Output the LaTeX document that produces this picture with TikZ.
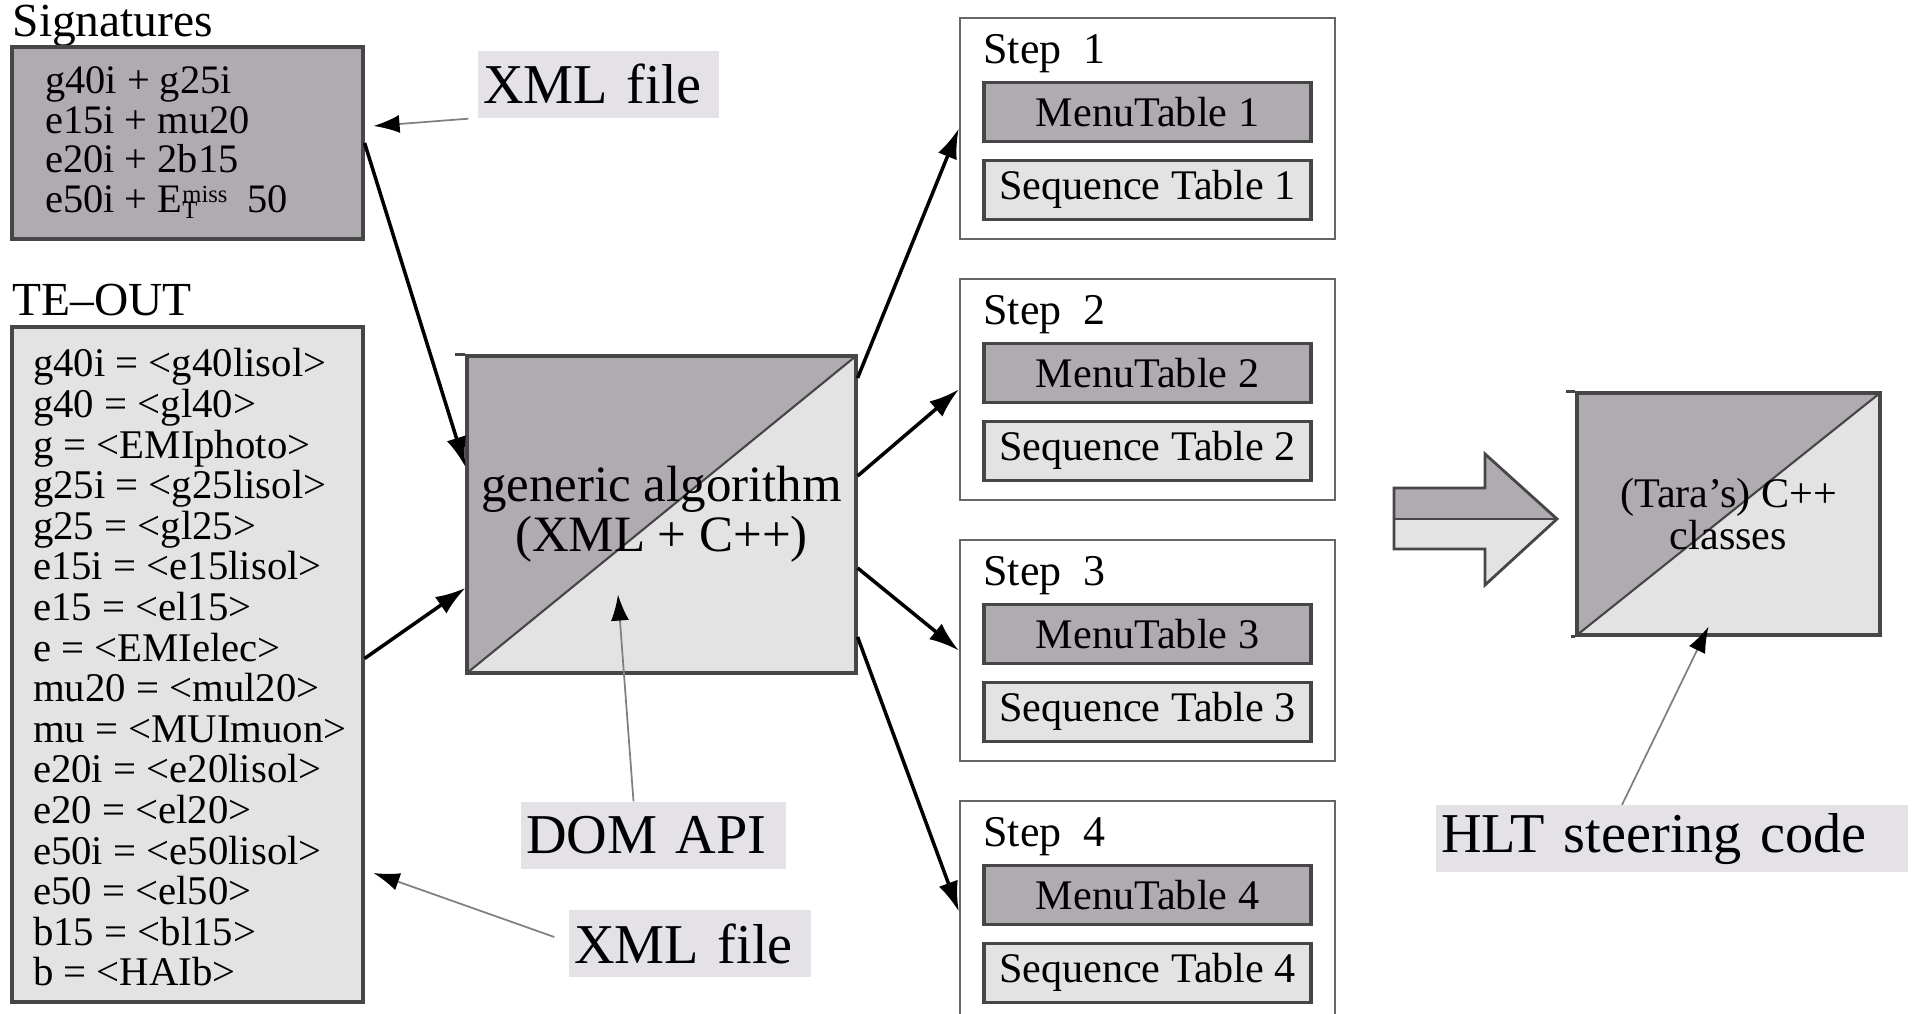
\documentclass[tikz,border=0pt]{standalone}
\usepackage{fontspec}
\setmainfont{Liberation Serif}
\usetikzlibrary{arrows.meta,positioning}

\definecolor{darkfill}{RGB}{176,170,177}
\definecolor{lightfill}{RGB}{227,227,227}
\definecolor{labelfill}{RGB}{228,225,231}
\definecolor{edge}{RGB}{70,70,70}

\tikzset{
  listbox/.style={draw=edge, line width=0.9pt, minimum width=3.51cm},
  listtext/.style={anchor=west, align=left, inner sep=0pt},
  stepbox/.style={draw=black!60, line width=0.7pt, minimum width=3.75cm, minimum height=2.21cm},
  tablebox/.style={draw=edge, line width=0.9pt, minimum width=3.27cm, minimum height=0.59cm,
    inner sep=0pt, font=\fontsize{12}{12}\selectfont},
  splitbox/.style={draw=edge, line width=0.9pt, fill=lightfill, align=center, path picture={
    \fill[darkfill] (path picture bounding box.south west) -- (path picture bounding box.north west)
      -- (path picture bounding box.north east) -- cycle;
    \draw[edge, line width=0.6pt] (path picture bounding box.south west) -- (path picture bounding box.north east);}},
  labelbox/.style={fill=labelfill, inner xsep=0.05cm, inner ysep=0pt, minimum height=0.67cm,
    align=left, font=\fontsize{16}{16}\selectfont},
  conn/.style={-{Latex[length=3mm,width=2mm]}, line width=1pt},
  pointer/.style={-{Latex[length=2.6mm,width=1.8mm,black]}, draw=gray, line width=0.5pt}
}

\begin{document}
\begin{tikzpicture}
    \clip (0,0) rectangle (19.12,10.14);

    % --- input files ---
    \node[anchor=base west, inner sep=0pt, font=\fontsize{13.5}{13.5}\selectfont] (sigtitle) at (0.12,9.77) {Signatures};
    \node[listbox, fill=darkfill, minimum height=1.92cm] (sig) at (1.875,8.71) {};
    \node[listtext, font=\fontsize{11.5}{11.24}\selectfont] (siglist) at ([xshift=0.34cm]sig.west)
      {g40i + g25i\\ e15i + mu20\\ e20i + 2b15\\
       e50i + E\rlap{\raisebox{-0.35ex}{\fontsize{7}{7}\selectfont T}}\raisebox{0.55ex}{\fontsize{7}{7}\selectfont miss}~~50};

    \node[anchor=base west, inner sep=0pt, font=\fontsize{13.5}{13.5}\selectfont] (teouttitle) at (0.12,6.98) {TE--OUT};
    \node[listbox, fill=lightfill, minimum height=6.75cm] (teout) at (1.875,3.495) {};
    \node[listtext, font=\fontsize{11.6}{11.55}\selectfont] (teoutlist) at ([xshift=0.22cm,yshift=-0.03cm]teout.west)
      {g40i = <g40lisol>\\ g40 = <gl40>\\ g = <EMIphoto>\\ g25i = <g25lisol>\\ g25 = <gl25>\\
       e15i = <e15lisol>\\ e15 = <el15>\\ e = <EMIelec>\\ mu20 = <mul20>\\ mu = <MUImuon>\\
       e20i = <e20lisol>\\ e20 = <el20>\\ e50i = <e50lisol>\\ e50 = <el50>\\ b15 = <bl15>\\ b = <HAIb>};

    % --- generic algorithm ---
    \node[splitbox, minimum width=3.89cm, minimum height=3.17cm, font=\fontsize{14.5}{13}\selectfont] (gen)
      at (6.615,4.995) {generic algorithm\\(XML + C++)};
    \draw[edge, line width=0.9pt] (gen.north west) -- ++(-0.1,0);

    % --- steps ---
    \node[stepbox] (step1) at (11.475,8.855) {};
    \node[stepbox] (step2) at (11.475,6.245) {};
    \node[stepbox] (step3) at (11.475,3.635) {};
    \node[stepbox] (step4) at (11.475,1.025) {};

    \node[anchor=base west, inner sep=0pt, font=\fontsize{12.5}{12.5}\selectfont] (steplabel1) at ([xshift=0.24cm,yshift=-0.47cm]step1.north west) {Step\enspace 1};
    \node[anchor=base west, inner sep=0pt, font=\fontsize{12.5}{12.5}\selectfont] (steplabel2) at ([xshift=0.24cm,yshift=-0.47cm]step2.north west) {Step\enspace 2};
    \node[anchor=base west, inner sep=0pt, font=\fontsize{12.5}{12.5}\selectfont] (steplabel3) at ([xshift=0.24cm,yshift=-0.47cm]step3.north west) {Step\enspace 3};
    \node[anchor=base west, inner sep=0pt, font=\fontsize{12.5}{12.5}\selectfont] (steplabel4) at ([xshift=0.24cm,yshift=-0.47cm]step4.north west) {Step\enspace 4};

    \node[tablebox, fill=darkfill] (menu1) at ([yshift=-0.955cm]step1.north) {MenuTable 1};
    \node[tablebox, fill=lightfill] (seq1) at ([yshift=-1.73cm]step1.north) {Sequence Table 1};
    \node[tablebox, fill=darkfill] (menu2) at ([yshift=-0.955cm]step2.north) {MenuTable 2};
    \node[tablebox, fill=lightfill] (seq2) at ([yshift=-1.73cm]step2.north) {Sequence Table 2};
    \node[tablebox, fill=darkfill] (menu3) at ([yshift=-0.955cm]step3.north) {MenuTable 3};
    \node[tablebox, fill=lightfill] (seq3) at ([yshift=-1.73cm]step3.north) {Sequence Table 3};
    \node[tablebox, fill=darkfill] (menu4) at ([yshift=-0.955cm]step4.north) {MenuTable 4};
    \node[tablebox, fill=lightfill] (seq4) at ([yshift=-1.73cm]step4.north) {Sequence Table 4};

    % --- block arrow and C++ classes ---
    \fill[darkfill] (13.94,4.95) -- (13.94,5.26) -- (14.85,5.26) -- (14.85,5.60) -- (15.57,4.95) -- cycle;
    \fill[lightfill] (13.94,4.95) -- (13.94,4.65) -- (14.85,4.65) -- (14.85,4.29) -- (15.57,4.95) -- cycle;
    \draw[edge, line width=0.8pt, line join=miter] (13.94,5.26) -- (14.85,5.26) -- (14.85,5.60) -- (15.57,4.95)
      -- (14.85,4.29) -- (14.85,4.65) -- (13.94,4.65) -- cycle;
    \draw[edge, line width=0.8pt] (13.94,4.95) -- (15.57,4.95);

    \node[splitbox, minimum width=3.03cm, minimum height=2.42cm, font=\fontsize{12}{10.5}\selectfont] (tara)
      at (17.285,5.0) {(Tara's) C++\\classes};
    \draw[edge, line width=0.9pt] (tara.north west) -- ++(-0.09,0);
    \draw[edge, line width=0.9pt] (tara.south west) -- ++(-0.04,0);

    % --- labels ---
    \node[labelbox, text width=2.31cm] (xmltop) at (5.985,9.295) {XML file};
    \node[labelbox, text width=2.55cm] (dom) at (6.535,1.785) {DOM API};
    \node[labelbox, text width=2.32cm] (xmlbot) at (6.90,0.70) {XML file};
    \node[labelbox, text width=4.62cm] (hlt) at (16.72,1.75) {HLT steering code};

    % --- connectors ---
    \draw[conn] (sig.east) -- ([yshift=0.475cm]gen.west);
    \draw[conn] ([yshift=0.06cm]teout.east) -- ([yshift=-0.735cm]gen.west);
    \draw[conn] ([yshift=1.365cm]gen.east) -- (step1.west);
    \draw[conn] ([yshift=0.385cm]gen.east) -- (step2.west);
    \draw[conn] ([yshift=-0.535cm]gen.east) -- (step3.west);
    \draw[conn] ([yshift=-1.225cm]gen.east) -- (step4.west);

    \draw[pointer] ([xshift=-0.09cm]xmltop.south west) -- ([xshift=0.09cm,yshift=0.17cm]sig.east);
    \draw[pointer] ([xshift=-0.14cm,yshift=0.07cm]xmlbot.west) -- ([xshift=0.09cm,yshift=-2.085cm]teout.east);
    \draw[pointer] ([xshift=-0.2cm]dom.north) -- ([xshift=-0.435cm,yshift=0.8cm]gen.south);
    \draw[pointer] ([xshift=-0.5cm]hlt.north) -- ([xshift=-0.2cm,yshift=0.1cm]tara.south);
\end{tikzpicture}
\end{document}
